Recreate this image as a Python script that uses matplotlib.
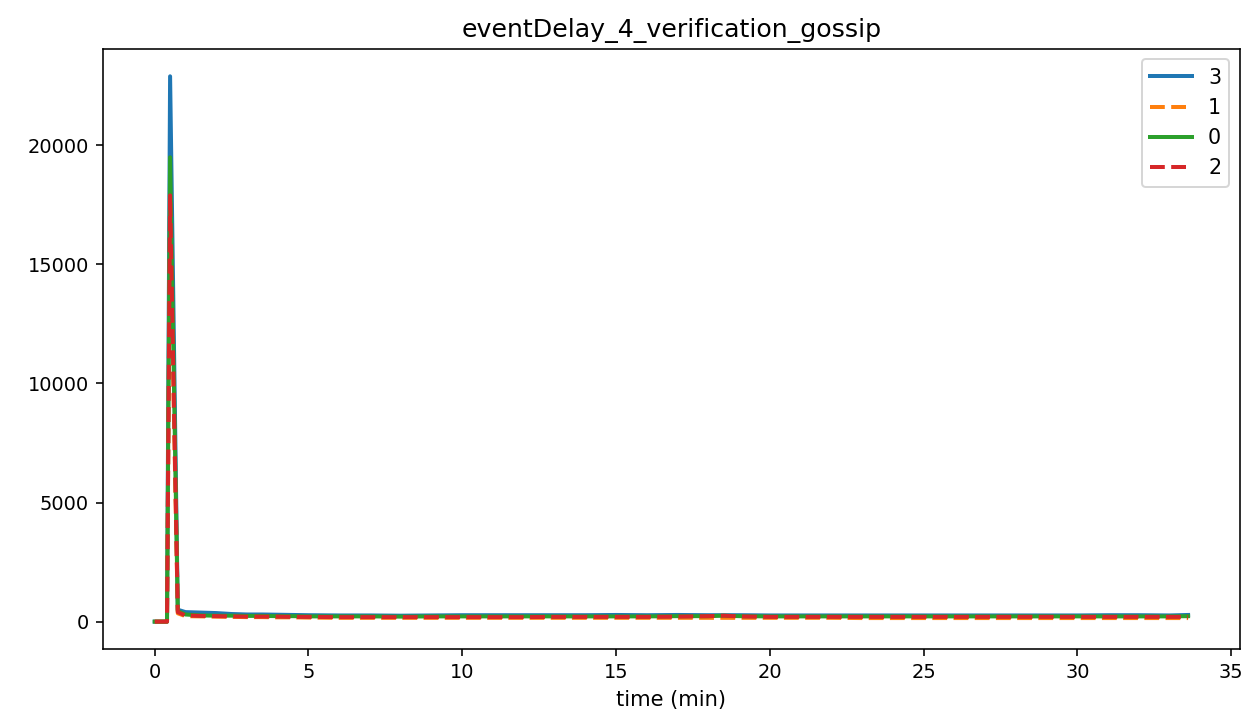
import matplotlib
matplotlib.use("Agg")
import matplotlib.pyplot as plt

# time in minutes
time_min = [0, 0.4, 0.5, 0.75, 1, 1.5, 2, 2.5, 3, 3.5, 4, 4.5, 5, 6, 7, 8, 9, 10,
            11, 12, 13, 14, 15, 16, 17, 18, 18.5, 19, 20, 21, 22, 23, 24, 25, 26,
            27, 28, 29, 30, 31, 32, 33, 33.6]

delay_3 = [0, 0, 22900, 500, 400, 380, 360, 320, 300, 300, 290, 280, 270, 260, 260,
           250, 260, 270, 270, 270, 270, 270, 280, 270, 280, 270, 270, 270, 260, 260,
           260, 260, 260, 260, 260, 260, 260, 260, 260, 270, 270, 260, 280]
delay_1 = [0, 0, 17000, 350, 230, 220, 210, 200, 190, 190, 180, 180, 170, 160, 160,
           160, 160, 160, 160, 160, 160, 160, 160, 160, 160, 160, 160, 160, 160, 160,
           160, 150, 150, 150, 150, 150, 150, 150, 150, 150, 150, 150, 150]
delay_0 = [0, 0, 19500, 450, 300, 260, 250, 250, 240, 240, 230, 230, 220, 220, 220,
           210, 220, 220, 220, 220, 220, 220, 220, 220, 230, 230, 250, 230, 220, 220,
           220, 220, 220, 220, 220, 220, 220, 220, 220, 220, 220, 220, 230]
delay_2 = [0, 0, 17900, 400, 260, 240, 230, 220, 210, 210, 210, 200, 200, 190, 190,
           190, 190, 190, 190, 190, 200, 200, 200, 200, 210, 230, 250, 220, 200, 200,
           200, 200, 200, 200, 200, 200, 200, 200, 200, 200, 200, 200, 200]

plt.rcParams['font.size'] = 10.5
plt.rcParams['xtick.labelsize'] = 9.7
plt.rcParams['ytick.labelsize'] = 9.7

fig = plt.figure(figsize=(1246 / 144, 721 / 144), dpi=144)
ax = fig.add_axes([0.0827, 0.1, 0.9123, 0.832])

ax.plot(time_min, delay_3, color='tab:blue', linestyle='-', linewidth=2, label='3')
ax.plot(time_min, delay_1, color='tab:orange', linestyle='--', linewidth=2, label='1')
ax.plot(time_min, delay_0, color='tab:green', linestyle='-', linewidth=2, label='0')
ax.plot(time_min, delay_2, color='tab:red', linestyle='--', linewidth=2, label='2')

ax.set_title('eventDelay_4_verification_gossip')
ax.set_xlabel('time (min)')
ax.legend(loc='upper right', fontsize=10.3)

fig.savefig('out.png', dpi=144)
